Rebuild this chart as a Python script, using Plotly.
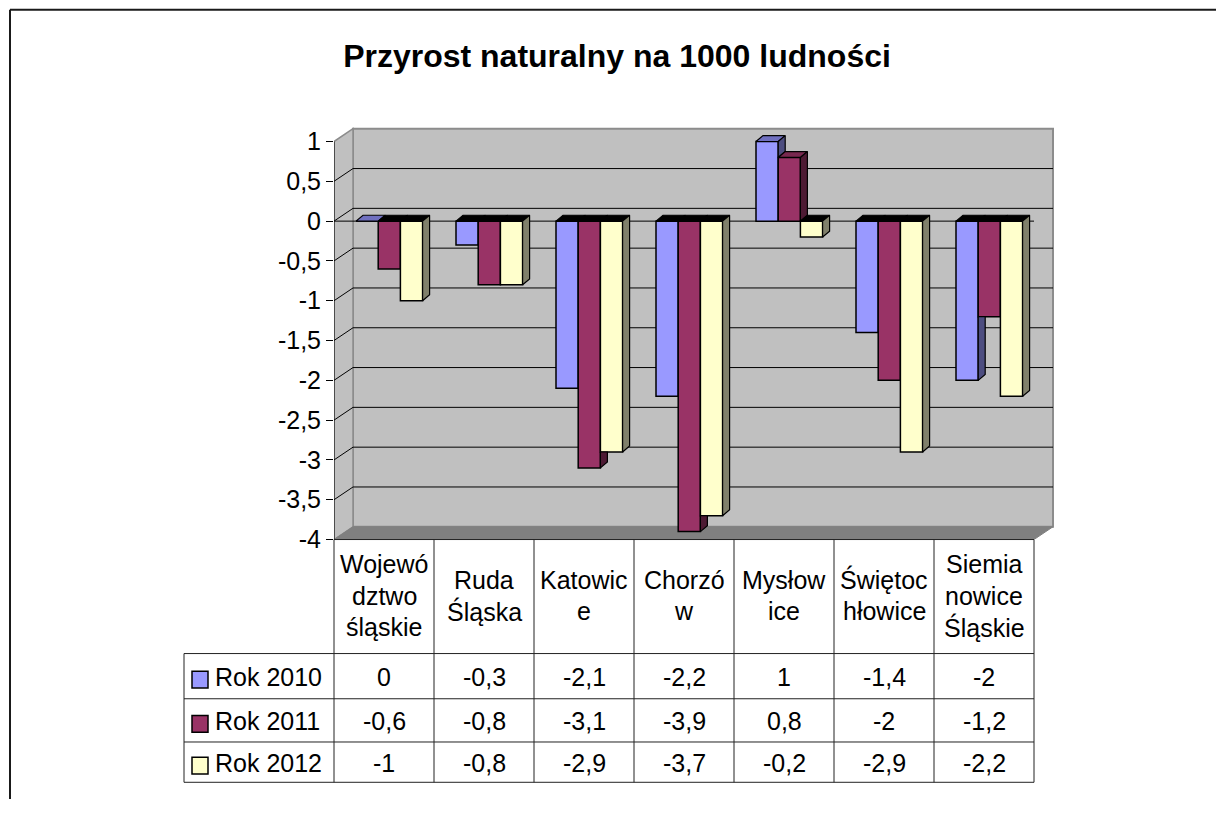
import plotly.graph_objects as go

# ---------------- data ----------------
categories = ["Województwo śląskie", "Ruda Śląska", "Katowice", "Chorzów",
              "Mysłowice", "Świętochłowice", "Siemianowice Śląskie"]
header_labels = ["Wojewó<br>dztwo<br>śląskie", "Ruda<br>Śląska", "Katowic<br>e",
                 "Chorzó<br>w", "Mysłow<br>ice", "Świętoc<br>hłowice",
                 "Siemia<br>nowice<br>Śląskie"]
series_names = ["Rok 2010", "Rok 2011", "Rok 2012"]
rok_2010 = [0, -0.3, -2.1, -2.2, 1, -1.4, -2]
rok_2011 = [-0.6, -0.8, -3.1, -3.9, 0.8, -2, -1.2]
rok_2012 = [-1, -0.8, -2.9, -3.7, -0.2, -2.9, -2.2]
y_tick_values = [1, 0.5, 0, -0.5, -1, -1.5, -2, -2.5, -3, -3.5, -4]
y_tick_labels = ["1", "0,5", "0", "-0,5", "-1", "-1,5", "-2", "-2,5", "-3", "-3,5", "-4"]
title_text = "Przyrost naturalny na 1000 ludności"

# ---------------- styles ----------------
front_colors = ["#9999FF", "#993366", "#FFFFCC"]
top_colors = ["#7070C0", "#78284F", "#CCCCA3"]
side_colors = ["#4D4D80", "#4D1A33", "#80806B"]
FONT = "Liberation Sans, Arial, sans-serif"

W, H = 1216, 813
AX_LEFT_PX = 334
PX_PER_CAT = 100
Y0_PX = 225
PX_PER_UNIT = 81
X_RANGE = [-0.5, 6.72]
Y_RANGE = [-4, 1.25]

def pxx(p):
    return p / W

def pxy(p):
    return 1 - p / H

x_dom = [pxx(AX_LEFT_PX), pxx(AX_LEFT_PX + (X_RANGE[1] - X_RANGE[0]) * PX_PER_CAT)]
y_dom = [pxy(Y0_PX - Y_RANGE[0] * PX_PER_UNIT), pxy(Y0_PX - Y_RANGE[1] * PX_PER_UNIT)]

BAR_W = 0.222
BAR_START = -0.28
DX = 0.07
DY = 6 / PX_PER_UNIT
WALL_DX = 0.19
WALL_DY = 13 / PX_PER_UNIT

series = [rok_2010, rok_2011, rok_2012]
n = len(categories)
xs = list(range(n))

fig = go.Figure()

# front faces (the real bars)
for s, vals in enumerate(series):
    fig.add_trace(go.Bar(
        x=xs, y=vals, name=series_names[s], width=BAR_W,
        offset=BAR_START + s * BAR_W,
        marker=dict(color=front_colors[s], line=dict(color="black", width=1.5)),
        customdata=categories,
        hovertemplate="%{customdata}: %{y}<extra>" + series_names[s] + "</extra>",
        showlegend=False,
    ))

def add_poly(polys, color):
    px, py = [], []
    for poly in polys:
        for (a, b) in poly:
            px.append(a)
            py.append(b)
        px.append(poly[0][0]); py.append(poly[0][1])
        px.append(None); py.append(None)
    if not px:
        return
    fig.add_trace(go.Scatter(
        x=px, y=py, mode="lines", fill="toself", fillcolor=color,
        line=dict(color="black", width=1.2), hoverinfo="skip",
        showlegend=False, connectgaps=False,
    ))

# 3D decoration: tops and visible side faces, derived from values
for s, vals in enumerate(series):
    tops_dark, tops_col, sides = [], [], []
    for i, v in enumerate(vals):
        x0 = i + BAR_START + s * BAR_W
        x1 = x0 + BAR_W
        t = max(v, 0)
        top = [(x0, t), (x1, t), (x1 + DX, t + DY), (x0 + DX, t + DY)]
        (tops_dark if v < 0 else tops_col).append(top)
        w = series[s + 1][i] if s + 1 < len(series) else None
        full = [(x1, 0), (x1, v), (x1 + DX, v + DY), (x1 + DX, DY)]
        poly = None
        if v != 0:
            if w is None:
                poly = full
            elif v < 0:
                if w >= 0:
                    poly = full
                elif v < w:
                    poly = [(x1, w), (x1 + DX, w), (x1 + DX, v + DY), (x1, v)]
            else:
                if w <= 0:
                    poly = full
                elif w < v:
                    poly = [(x1, w), (x1, v), (x1 + DX, v + DY), (x1 + DX, w + DY)]
        if poly:
            sides.append(poly)
    add_poly(tops_dark, "black")
    add_poly(tops_col, top_colors[s])
    add_poly(sides, side_colors[s])

shapes = []
ymin, ymax = min(y_tick_values), max(y_tick_values)
xl = X_RANGE[0]
xr = xl + n
# back wall
shapes.append(dict(type="rect", xref="x", yref="y", x0=xl + WALL_DX, x1=xr + WALL_DX,
                   y0=ymin + WALL_DY, y1=ymax + WALL_DY, fillcolor="#C0C0C0",
                   line=dict(color="#8C8C8C", width=2), layer="below"))
# left wall
shapes.append(dict(type="path", xref="x", yref="y",
                   path=f"M{xl},{ymin} L{xl},{ymax} L{xl + WALL_DX},{ymax + WALL_DY} L{xl + WALL_DX},{ymin + WALL_DY} Z",
                   fillcolor="#C0C0C0", line=dict(color="#8C8C8C", width=1.5), layer="below"))
# floor
shapes.append(dict(type="path", xref="x", yref="y",
                   path=f"M{xl},{ymin} L{xr},{ymin} L{xr + WALL_DX},{ymin + WALL_DY} L{xl + WALL_DX},{ymin + WALL_DY} Z",
                   fillcolor="#808080", line=dict(color="#808080", width=1), layer="below"))
# gridlines on back wall and slants on left wall
for t in y_tick_values:
    if t in (ymin, ymax):
        continue
    shapes.append(dict(type="line", xref="x", yref="y", x0=xl + WALL_DX, x1=xr + WALL_DX,
                       y0=t + WALL_DY, y1=t + WALL_DY, line=dict(color="black", width=1), layer="below"))
    shapes.append(dict(type="line", xref="x", yref="y", x0=xl, x1=xl + WALL_DX,
                       y0=t, y1=t + WALL_DY, line=dict(color="black", width=1), layer="below"))
# front zero line
shapes.append(dict(type="line", xref="x", yref="y", x0=xl, x1=xr, y0=0, y1=0,
                   line=dict(color="black", width=1), layer="below"))
# value axis line
shapes.append(dict(type="line", xref="x", yref="y", x0=xl, x1=xl, y0=ymin, y1=ymax,
                   line=dict(color="black", width=1)))

# ---------- data table (paper coordinates) ----------
TBL_TOP, HDR_BOT = 549, 665
ROW_LINES = [665, 711, 755, 796]
LEG_LEFT = 184
TBL_RIGHT = AX_LEFT_PX + n * PX_PER_CAT
tcol = "#222222"
for yl in [TBL_TOP] + ROW_LINES:
    x_start = AX_LEFT_PX if yl == TBL_TOP else LEG_LEFT
    shapes.append(dict(type="line", xref="paper", yref="paper", x0=pxx(x_start), x1=pxx(TBL_RIGHT),
                       y0=pxy(yl), y1=pxy(yl), line=dict(color=tcol, width=1)))
for k in range(n + 1):
    xp = AX_LEFT_PX + k * PX_PER_CAT
    shapes.append(dict(type="line", xref="paper", yref="paper", x0=pxx(xp), x1=pxx(xp),
                       y0=pxy(TBL_TOP), y1=pxy(ROW_LINES[-1]), line=dict(color=tcol, width=1)))
shapes.append(dict(type="line", xref="paper", yref="paper", x0=pxx(LEG_LEFT), x1=pxx(LEG_LEFT),
                   y0=pxy(ROW_LINES[0]), y1=pxy(ROW_LINES[-1]), line=dict(color=tcol, width=1)))

# chart frame (top and left edges visible)
shapes.append(dict(type="line", xref="paper", yref="paper", x0=pxx(10), x1=1, y0=pxy(10), y1=pxy(10),
                   line=dict(color="#1A1A1A", width=2)))
shapes.append(dict(type="line", xref="paper", yref="paper", x0=pxx(10), x1=pxx(10), y0=pxy(10), y1=0,
                   line=dict(color="#1A1A1A", width=2)))

annotations = []
TXT = 25
hdr_center = (TBL_TOP + HDR_BOT) / 2 - 1
LINE_SP = 32
for i, lab in enumerate(header_labels):
    lines = lab.split("<br>")
    m = len(lines)
    for j, ln in enumerate(lines):
        ypx = hdr_center + (j - (m - 1) / 2) * LINE_SP
        annotations.append(dict(x=pxx(AX_LEFT_PX + (i + 0.5) * PX_PER_CAT), y=pxy(ypx),
                                xref="paper", yref="paper", text=ln, showarrow=False,
                                xanchor="center", yanchor="middle",
                                font=dict(family=FONT, size=TXT, color="black")))

def fmt(v):
    return f"{v:g}".replace(".", ",")

for r, vals in enumerate(series):
    yc = (ROW_LINES[r] + ROW_LINES[r + 1]) / 2
    for i, v in enumerate(vals):
        annotations.append(dict(x=pxx(AX_LEFT_PX + (i + 0.5) * PX_PER_CAT), y=pxy(yc + 1),
                                xref="paper", yref="paper", text=fmt(v), showarrow=False,
                                xanchor="center", yanchor="middle",
                                font=dict(family=FONT, size=TXT, color="black")))
    annotations.append(dict(x=pxx(213), y=pxy(yc + 1), xref="paper", yref="paper",
                            text=series_names[r], showarrow=False, xanchor="left", yanchor="middle",
                            font=dict(family=FONT, size=TXT, color="black")))
    shapes.append(dict(type="rect", xref="paper", yref="paper", x0=pxx(192), x1=pxx(208),
                       y0=pxy(yc + 3.5 + 8.5), y1=pxy(yc + 3.5 - 8.5),
                       fillcolor=front_colors[r], line=dict(color="black", width=1.5)))

fig.update_layout(
    width=W, height=H, autosize=False,
    margin=dict(l=0, r=0, t=0, b=0, pad=0),
    paper_bgcolor="white", plot_bgcolor="rgba(0,0,0,0)",
    barmode="overlay",
    showlegend=False,
    title=dict(text="<b>" + title_text + "</b>", x=pxx(617), y=pxy(56),
               xanchor="center", yanchor="middle",
               font=dict(family=FONT, size=32, color="black")),
    xaxis=dict(domain=x_dom, range=X_RANGE, showgrid=False, zeroline=False,
               showticklabels=False, ticks="", showline=False, fixedrange=True),
    yaxis=dict(domain=y_dom, range=Y_RANGE, showgrid=False, zeroline=False,
               tickvals=y_tick_values, ticktext=y_tick_labels, ticks="outside",
               ticklen=7, tickcolor="black", tickwidth=1, showline=False,
               tickfont=dict(family=FONT, size=TXT, color="black"), fixedrange=True),
    shapes=shapes,
    annotations=annotations,
)

fig.write_html("out.html", config={"displayModeBar": False},
               post_script="document.body.style.margin='0';document.body.style.overflow='hidden';")
